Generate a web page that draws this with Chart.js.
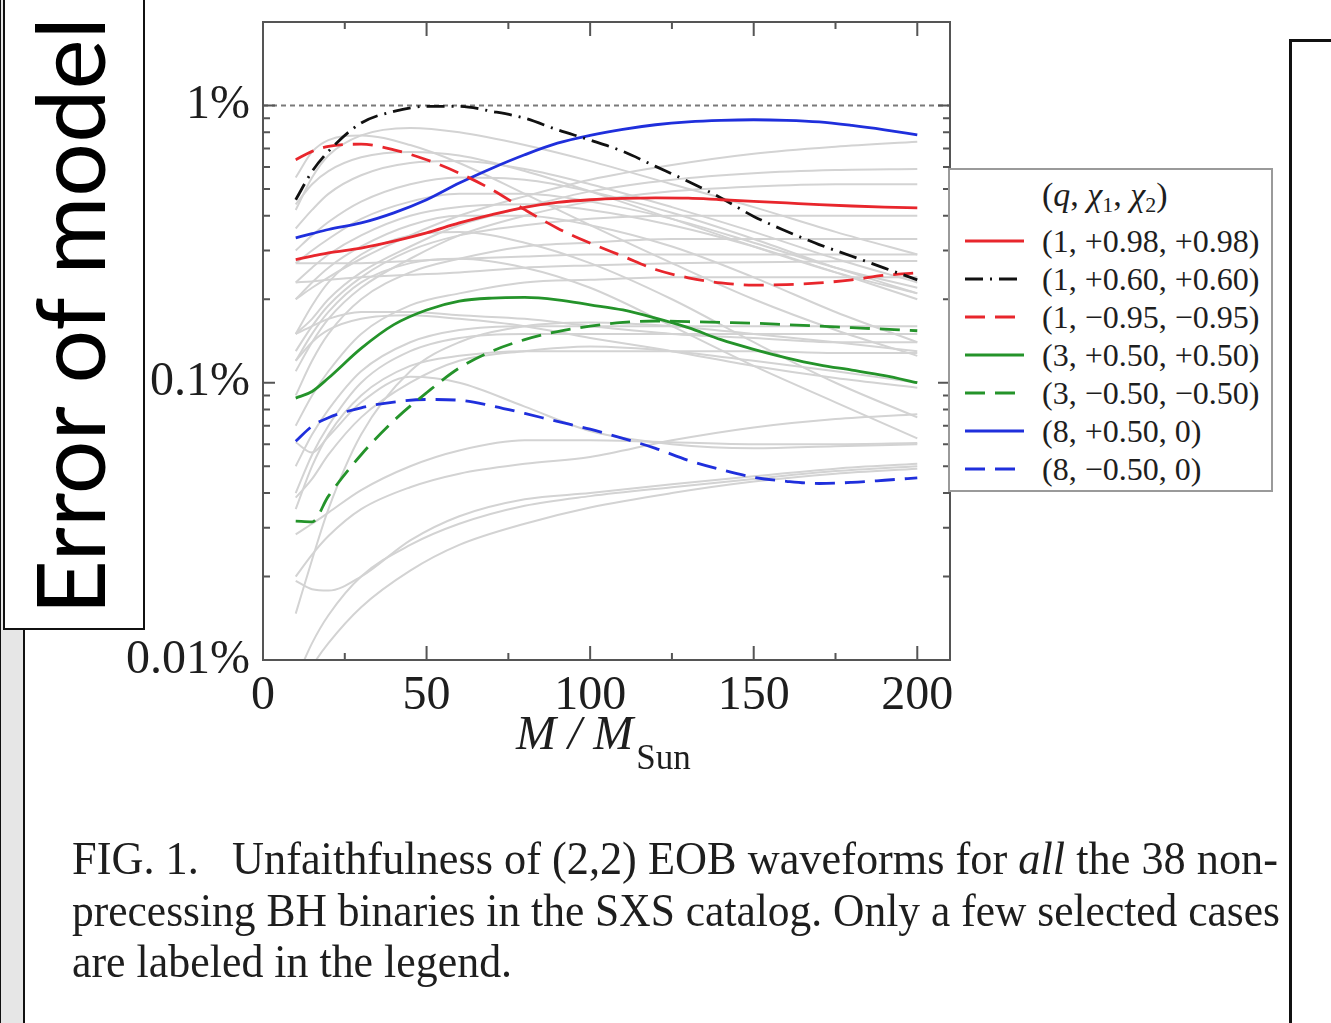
<!DOCTYPE html>
<html>
<head>
<meta charset="utf-8">
<title>Unfaithfulness of EOB waveforms</title>
<script src="https://cdn.jsdelivr.net/npm/chart.js@4.4.1/dist/chart.umd.min.js"></script>
<style>
  html, body { margin: 0; padding: 0; background: #fff; }
  body { width: 1331px; height: 1023px; position: relative; overflow: hidden; font-family: 'Liberation Serif', 'Times New Roman', serif; color: #1e1e1e; }
  #plot { position: absolute; left: 0; top: 0; }
  .abs { position: absolute; white-space: nowrap; }
  #strip { left: 0; top: 0; width: 22px; height: 1023px; background: #e6e6e6; border-left: 1px solid #111; border-right: 2px solid #111; }
  #ybox { left: 3px; top: -3px; width: 138px; height: 629px; border: 2px solid #111; background: #fff; overflow: hidden; }
  #ytitle { left: 21px; top: 615px; font-family: Lato, sans-serif; font-size: 95px; line-height: 95px; color: #000; transform-origin: 0 0; }
  #frame { left: 1289px; top: 39px; width: 60px; height: 1000px; border-left: 3px solid #111; border-top: 3px solid #111; }
  #xtitle { left: 516px; top: 709px; font-size: 48px; line-height: 48px; font-style: italic; }
  #xtitle sub { font-style: normal; font-size: 35px; vertical-align: -20px; margin-left: 3px; }
  .cap { left: 72px; font-size: 46px; line-height: 46px; transform-origin: 0 0; }
  #legend { left: 948px; top: 168px; width: 321px; height: 320px; border: 2px solid #9a9a9a; background: #fff; }
  #legend .ttl { position: absolute; left: 92px; top: 8px; font-size: 34px; line-height: 34px; }
  #legend .ttl sub { font-size: 22px; vertical-align: -6px; }
  #legend .row { position: absolute; left: 0; height: 38px; width: 321px; }
  #legend .row svg { position: absolute; left: 13px; top: 0; }
  #legend .row span { position: absolute; left: 92px; top: 3px; font-size: 32px; line-height: 32px; }
</style>
</head>
<body>
<div id="strip" class="abs"></div>
<div id="ybox" class="abs"></div>
<div id="ytitle" class="abs">Error of model</div>
<div id="frame" class="abs"></div>
<canvas id="plot" width="1331" height="1023"></canvas>
<div id="xtitle" class="abs">M / M<sub>Sun</sub></div>
<div id="legend" class="abs"><div class="ttl">(<i>q</i>, <i>χ</i><sub>1</sub>, <i>χ</i><sub>2</sub>)</div></div>
<div id="cap1" class="abs cap" style="top:836px">FIG. 1.&nbsp;&nbsp; Unfaithfulness of (2,2) EOB waveforms for <i>all</i> the 38 non-</div>
<div id="cap2" class="abs cap" style="top:888px">precessing BH binaries in the SXS catalog. Only a few selected cases</div>
<div id="cap3" class="abs cap" style="top:939px">are labeled in the legend.</div>
<script>
// total mass in solar masses where the labelled cases are sampled
const massX = [10, 15, 20, 30, 40, 50, 60, 70, 80, 90, 100, 110, 120, 130, 140, 150, 160, 170, 180, 190, 200];

// legend entries (q, chi1, chi2)
const caseLabels = ['(1, +0.98, +0.98)', '(1, +0.60, +0.60)', '(1, −0.95, −0.95)', '(3, +0.50, +0.50)', '(3, −0.50, −0.50)', '(8, +0.50, 0)', '(8, −0.50, 0)'];

// unfaithfulness in percent
const q1p098 = [0.278, 0.286, 0.294, 0.306, 0.324, 0.347, 0.377, 0.404, 0.429, 0.447, 0.457, 0.462, 0.464, 0.463, 0.457, 0.451, 0.445, 0.439, 0.434, 0.430, 0.427];
const q1p060 = [0.457, 0.578, 0.683, 0.864, 0.952, 0.992, 0.992, 0.952, 0.900, 0.817, 0.750, 0.683, 0.603, 0.532, 0.464, 0.398, 0.352, 0.315, 0.286, 0.259, 0.235];
const q1m095 = [0.637, 0.683, 0.712, 0.725, 0.692, 0.637, 0.570, 0.497, 0.421, 0.361, 0.319, 0.286, 0.256, 0.239, 0.229, 0.225, 0.226, 0.229, 0.235, 0.244, 0.249];
const q3p050 = [0.088, 0.093, 0.104, 0.133, 0.162, 0.183, 0.197, 0.202, 0.203, 0.199, 0.191, 0.183, 0.171, 0.158, 0.143, 0.132, 0.123, 0.116, 0.111, 0.106, 0.100];
const q3m050 = [0.0317, 0.0315, 0.039, 0.055, 0.073, 0.092, 0.113, 0.130, 0.143, 0.153, 0.160, 0.165, 0.167, 0.166, 0.165, 0.164, 0.162, 0.160, 0.158, 0.156, 0.154];
const q8p050 = [0.333, 0.345, 0.357, 0.377, 0.410, 0.457, 0.525, 0.594, 0.664, 0.731, 0.780, 0.820, 0.852, 0.873, 0.884, 0.888, 0.884, 0.872, 0.847, 0.817, 0.784];
const q8m050 = [0.0615, 0.0697, 0.0748, 0.0812, 0.0852, 0.087, 0.0865, 0.0825, 0.0775, 0.0725, 0.068, 0.063, 0.058, 0.0525, 0.0486, 0.0456, 0.0441, 0.0433, 0.0437, 0.0445, 0.0454];

// the remaining unlabelled binaries, sampled more coarsely
const grayX = [10, 15, 20, 30, 45, 60, 80, 100, 125, 150, 175, 200];
const grayCases = [
  [0.42, 0.55, 0.66, 0.78, 0.83, 0.80, 0.72, 0.63, 0.52, 0.43, 0.35, 0.29],
  [0.55, 0.68, 0.75, 0.78, 0.72, 0.62, 0.48, 0.37, 0.27, 0.20, 0.155, 0.125],
  [0.44, 0.52, 0.58, 0.65, 0.68, 0.66, 0.58, 0.49, 0.39, 0.31, 0.25, 0.21],
  [0.36, 0.42, 0.48, 0.56, 0.62, 0.63, 0.59, 0.52, 0.43, 0.35, 0.28, 0.23],
  [0.30, 0.34, 0.38, 0.45, 0.52, 0.55, 0.54, 0.49, 0.41, 0.33, 0.26, 0.21],
  [0.27, 0.30, 0.33, 0.39, 0.45, 0.48, 0.48, 0.45, 0.39, 0.32, 0.26, 0.22],
  [0.23, 0.26, 0.29, 0.34, 0.40, 0.43, 0.44, 0.42, 0.37, 0.31, 0.25, 0.20],
  [0.20, 0.23, 0.26, 0.31, 0.37, 0.40, 0.40, 0.37, 0.31, 0.24, 0.18, 0.14],
  [0.15, 0.19, 0.23, 0.29, 0.34, 0.35, 0.32, 0.27, 0.20, 0.14, 0.10, 0.075],
  [0.12, 0.15, 0.18, 0.23, 0.27, 0.28, 0.26, 0.22, 0.16, 0.115, 0.085, 0.063],
  [0.20, 0.22, 0.24, 0.28, 0.34, 0.40, 0.47, 0.54, 0.61, 0.67, 0.71, 0.74],
  [0.15, 0.17, 0.20, 0.25, 0.31, 0.37, 0.43, 0.49, 0.54, 0.57, 0.585, 0.59],
  [0.11, 0.14, 0.17, 0.22, 0.28, 0.34, 0.40, 0.45, 0.49, 0.51, 0.52, 0.52],
  [0.13, 0.16, 0.19, 0.24, 0.30, 0.34, 0.37, 0.39, 0.40, 0.40, 0.40, 0.40],
  [0.09, 0.12, 0.15, 0.20, 0.25, 0.28, 0.31, 0.32, 0.33, 0.33, 0.33, 0.33],
  [0.27, 0.27, 0.27, 0.27, 0.275, 0.28, 0.285, 0.29, 0.29, 0.29, 0.29, 0.29],
  [0.23, 0.232, 0.235, 0.24, 0.245, 0.25, 0.26, 0.265, 0.27, 0.272, 0.274, 0.275],
  [0.07, 0.09, 0.11, 0.15, 0.19, 0.21, 0.23, 0.235, 0.24, 0.24, 0.24, 0.24],
  [0.05, 0.065, 0.08, 0.11, 0.14, 0.155, 0.16, 0.16, 0.16, 0.16, 0.16, 0.16],
  [0.04, 0.055, 0.07, 0.10, 0.13, 0.145, 0.15, 0.15, 0.15, 0.15, 0.15, 0.15],
  [0.15, 0.16, 0.17, 0.18, 0.18, 0.175, 0.17, 0.16, 0.15, 0.145, 0.14, 0.14],
  [0.035, 0.05, 0.065, 0.09, 0.115, 0.125, 0.13, 0.13, 0.13, 0.13, 0.128, 0.128],
  [0.12, 0.14, 0.155, 0.17, 0.175, 0.17, 0.16, 0.145, 0.13, 0.115, 0.104, 0.096],
  [0.020, 0.024, 0.028, 0.035, 0.042, 0.047, 0.051, 0.054, 0.062, 0.069, 0.074, 0.077],
  [0.0085, 0.0115, 0.0145, 0.020, 0.026, 0.031, 0.036, 0.039, 0.042, 0.045, 0.048, 0.050],
  [0.0075, 0.0095, 0.0115, 0.0155, 0.021, 0.026, 0.031, 0.0355, 0.040, 0.044, 0.047, 0.049],
  [0.0193, 0.0180, 0.0178, 0.020, 0.027, 0.033, 0.038, 0.040, 0.043, 0.046, 0.049, 0.051],
  [0.0147, 0.023, 0.035, 0.065, 0.11, 0.14, 0.16, 0.165, 0.16, 0.15, 0.14, 0.13],
  [0.0284, 0.031, 0.034, 0.041, 0.050, 0.057, 0.062, 0.062, 0.061, 0.060, 0.060, 0.0606],
  [0.061, 0.056, 0.064, 0.085, 0.105, 0.10, 0.082, 0.067, 0.060, 0.058, 0.059, 0.060],
  [0.0385, 0.045, 0.055, 0.075, 0.10, 0.12, 0.13, 0.135, 0.13, 0.12, 0.11, 0.10]
];

// axis ticks
const xTickValues = [0, 50, 100, 150, 200];
const xMinorValues = [25, 75, 125, 175];
const yTickValues = [0.01, 0.1, 1];
const yTickLabels = ['0.01%', '0.1%', '1%'];

const RED = '#e8262c', BLACK = '#111', GREEN = '#24932a', BLUE = '#1f2fdc';
const styles = [
  { color: RED, dash: [] },
  { color: BLACK, dash: [18, 7, 2, 7] },
  { color: RED, dash: [20, 10] },
  { color: GREEN, dash: [] },
  { color: GREEN, dash: [20, 10] },
  { color: BLUE, dash: [] },
  { color: BLUE, dash: [20, 10] }
];
const labelled = [q1p098, q1p060, q1m095, q3p050, q3m050, q8p050, q8m050];

const datasets = [];
labelled.forEach((vals, i) => {
  datasets.push({
    label: caseLabels[i],
    data: massX.map((m, j) => ({ x: m, y: vals[j] })),
    borderColor: styles[i].color,
    borderDash: styles[i].dash,
    borderWidth: 2.8
  });
});
grayCases.forEach(vals => {
  datasets.push({
    label: '',
    data: grayX.map((m, j) => ({ x: m, y: vals[j] })),
    borderColor: '#d3d3d3',
    borderWidth: 2
  });
});

// frame, inward ticks and the dotted 1% reference line
const frameTicks = {
  id: 'frameTicks',
  beforeDatasetsDraw(chart) {
    const { ctx, chartArea: a, scales: { y } } = chart;
    const py = y.getPixelForValue(1);
    ctx.save();
    ctx.strokeStyle = '#7a7a7a';
    ctx.lineWidth = 2;
    ctx.setLineDash([5, 4]);
    ctx.beginPath();
    ctx.moveTo(a.left, py);
    ctx.lineTo(a.right, py);
    ctx.stroke();
    ctx.restore();
  },
  afterDatasetsDraw(chart) {
    const { ctx, chartArea: a, scales: { x, y } } = chart;
    ctx.save();
    ctx.strokeStyle = '#555';
    ctx.lineWidth = 2;
    ctx.strokeRect(a.left, a.top, a.right - a.left, a.bottom - a.top);
    ctx.beginPath();
    const xt = (v, len) => {
      const px = x.getPixelForValue(v);
      ctx.moveTo(px, a.bottom); ctx.lineTo(px, a.bottom - len);
      ctx.moveTo(px, a.top); ctx.lineTo(px, a.top + len);
    };
    xTickValues.forEach(v => xt(v, 14));
    xMinorValues.forEach(v => xt(v, 7));
    const yt = (v, len) => {
      const py = y.getPixelForValue(v);
      ctx.moveTo(a.left, py); ctx.lineTo(a.left + len, py);
      ctx.moveTo(a.right, py); ctx.lineTo(a.right - len, py);
    };
    yTickValues.forEach(d => {
      for (let m = 1; m <= 9; m++) {
        const v = m * d;
        if (v > y.max + 1e-9) break;
        yt(v, m === 1 ? 12 : 7);
      }
    });
    ctx.stroke();
    ctx.restore();
  }
};

const tickFont = { family: "'Liberation Serif', serif", size: 48 };

new Chart(document.getElementById('plot'), {
  type: 'line',
  data: { datasets },
  options: {
    responsive: false,
    animation: false,
    events: [],
    layout: { padding: { left: 0, top: 22, right: 381, bottom: 0 } },
    elements: {
      point: { radius: 0 },
      line: { cubicInterpolationMode: 'monotone', fill: false }
    },
    plugins: { legend: { display: false }, tooltip: { enabled: false } },
    scales: {
      x: {
        type: 'linear',
        min: 0,
        max: 210,
        afterBuildTicks: s => { s.ticks = xTickValues.map(value => ({ value })); },
        afterFit: s => { s.height = 363; s.paddingLeft = 0; s.paddingRight = 0; },
        grid: { display: false, drawTicks: false },
        border: { display: false },
        ticks: { font: tickFont, color: '#1e1e1e', padding: 8, autoSkip: false, maxRotation: 0, callback: v => String(v) }
      },
      y: {
        type: 'logarithmic',
        min: 0.01,
        max: 2,
        afterBuildTicks: s => { s.ticks = yTickValues.map(value => ({ value })); },
        afterFit: s => { s.width = 263; s.paddingTop = 0; s.paddingBottom = 0; },
        grid: { display: false, drawTicks: false },
        border: { display: false },
        ticks: { font: tickFont, color: '#1e1e1e', padding: 13, autoSkip: false, callback: (v, i) => yTickLabels[i] }
      }
    }
  },
  plugins: [frameTicks]
});

// legend rows with line samples in the same styles as the curves
const legend = document.getElementById('legend');
caseLabels.forEach((lab, i) => {
  const row = document.createElement('div');
  row.className = 'row';
  row.style.top = (52 + i * 38) + 'px';
  const dash = styles[i].dash.length ? ` stroke-dasharray="${styles[i].dash.join(' ')}"` : '';
  row.innerHTML = `<svg width="62" height="38"><line x1="2" y1="19" x2="61" y2="19" stroke="${styles[i].color}" stroke-width="2.8"${dash}/></svg><span>${lab}</span>`;
  legend.appendChild(row);
});

// squeeze the text blocks to their column widths
function fitWidth(el, target, extra) {
  const w = el.getBoundingClientRect().width;
  const k = target / w;
  el.style.transform = (extra || '') + ` scaleX(${k})`;
  return k;
}
const k1 = fitWidth(document.getElementById('cap1'), 1206);
const k2 = fitWidth(document.getElementById('cap2'), 1208);
document.getElementById('cap3').style.transform = `scaleX(${(k1 + k2) / 2})`;
fitWidth(document.getElementById('ytitle'), 598, 'rotate(-90deg)');
</script>
</body>
</html>
